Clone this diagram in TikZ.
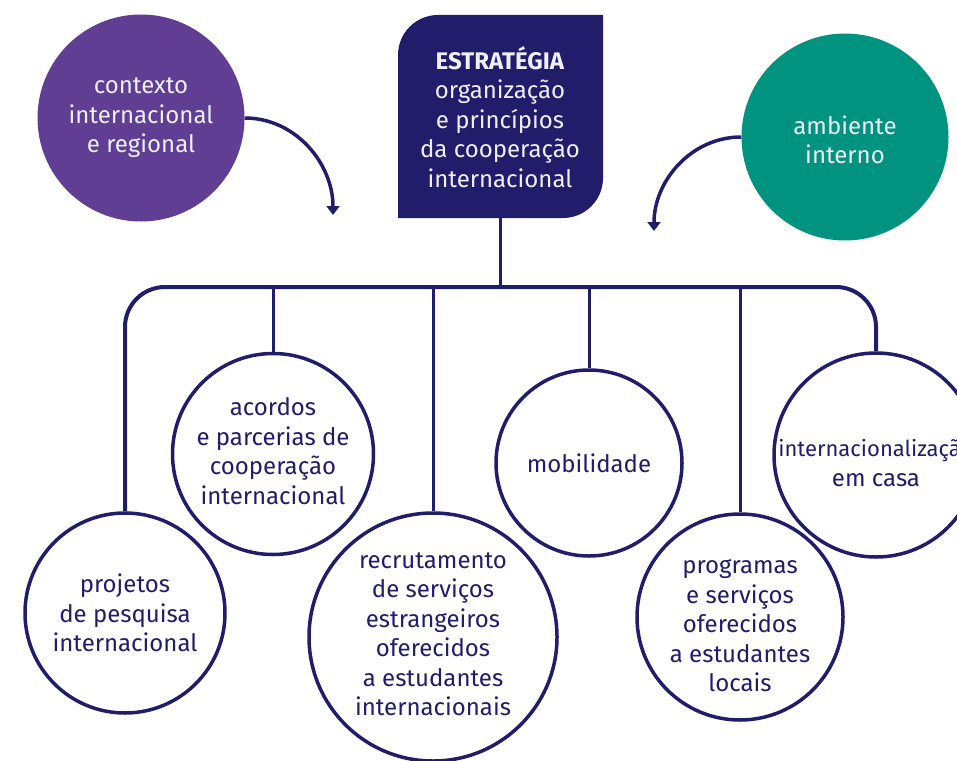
\documentclass[tikz,border=0pt]{standalone}
\usepackage{fontspec}
\setmainfont{Fira Sans}
\usetikzlibrary{arrows.meta}
\definecolor{navy}{RGB}{34,29,107}
\definecolor{violet}{RGB}{95,62,148}
\definecolor{teal}{RGB}{0,148,128}
\definecolor{paper}{RGB}{240,238,248}

\begin{document}
\begin{tikzpicture}[x=1pt, y=-1pt,
  txt/.style={font=\fontsize{24}{29.5}\selectfont, align=center, inner sep=0pt},
  topic/.style={circle, draw=navy, line width=3.5pt, fill=white, inner sep=0pt, minimum size=#1},
  context/.style={circle, fill=#1, inner sep=0pt, minimum size=207pt},
  link/.style={navy, line width=3pt},
  influence/.style={navy, line width=3.5pt, -{Triangle[width=13pt,length=9pt]}}]
\useasboundingbox (0,0) rectangle (957,760);

% top row
\node[context=violet, label={[txt, text=paper]center:contexto\\internacional\\e regional}] (ctx) at (141,118) {};
\node[context=teal, label={[txt, text=paper, yshift=-3pt]center:ambiente\\interno}] (amb) at (845,137) {};
\fill[navy] (398,218) -- (398,55) arc[start angle=180, end angle=90, radius=40pt] -- (603,15) -- (603,178) arc[start angle=0, end angle=-90, radius=40pt] -- cycle;
\node[txt, text=paper] (strat) at (500,117) {\textbf{ESTRATÉGIA}\\organização\\e princípios\\da cooperação\\internacional};
\coordinate (stem) at (500,218);
\coordinate (bar) at (500,287);

% arrows into the strategy
\coordinate (ctx-in) at (333,215);
\coordinate (amb-in) at (654,231);
\draw[influence] (ctx.east) to[out=0, in=90] (ctx-in);
\draw[influence] (amb.west) to[out=180, in=90] (amb-in);

% topics
\node[topic=200pt, label={[txt, text=navy]center:projetos\\de pesquisa\\internacional}] (proj) at (125,613) {};
\node[topic=201pt, label={[txt, text=navy, yshift=3pt]center:acordos\\e parcerias de\\cooperação\\internacional}] (acor) at (273,454) {};
\node[topic=248pt, label={[txt, text=navy, yshift=3pt]center:recrutamento\\de serviços\\estrangeiros\\oferecidos\\a estudantes\\internacionais}] (recr) at (433,637) {};
\node[topic=186pt, label={[txt, text=navy]center:mobilidade}] (mobi) at (589,463) {};
\node[topic=206pt, label={[txt, text=navy, yshift=-9pt]center:programas\\e serviços\\oferecidos\\a estudantes\\locais}] (prog) at (740,617) {};
\node[topic=204pt, label={[txt, text=navy, yshift=-8pt]center:{\fontsize{22}{29.5}\selectfont internacionalização}\\em casa}] (intl) at (876,455) {};

% tree
\draw[link] (stem) -- (bar);
\draw[link, line width=4pt, rounded corners=40pt] (proj.north) |- (bar) -| (intl.north);
\foreach \t in {acor, recr, mobi, prog}
  \draw[link] (\t.north |- bar) -- (\t.north);
\end{tikzpicture}
\end{document}
